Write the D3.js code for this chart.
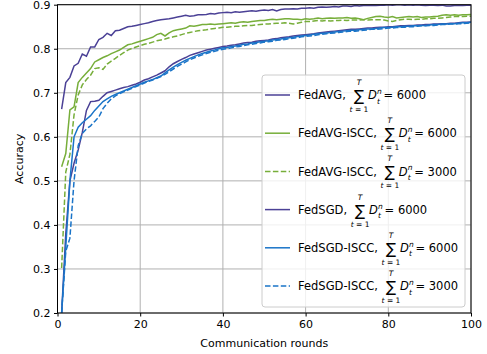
<!DOCTYPE html>
<html>
<head>
<meta charset="utf-8">
<script src="https://cdn.jsdelivr.net/npm/d3@7"></script>
<style>
  body { margin: 0; background: #fff; }
  text { font-family: "DejaVu Sans", sans-serif; fill: #000; }
</style>
</head>
<body>
<div id="chart"></div>
<script>
// rounds 1..100
const rounds = d3.range(1, 101)

const fedAvg6000 = [
  0.663, 0.723, 0.735, 0.761, 0.767, 0.788, 0.783, 0.804, 0.804, 0.821, 0.826, 0.835, 0.830, 0.841, 0.842,
  0.846, 0.850, 0.851, 0.853, 0.855, 0.857, 0.859, 0.862, 0.864, 0.866,
  0.867, 0.868, 0.870, 0.872, 0.874, 0.876, 0.874, 0.875, 0.877, 0.877, 0.878, 0.880, 0.879, 0.881, 0.882,
  0.883, 0.882, 0.884, 0.883, 0.884, 0.885, 0.886, 0.885, 0.887, 0.888, 0.887, 0.889, 0.886, 0.889, 0.890,
  0.890, 0.891, 0.890, 0.892, 0.892, 0.893, 0.892, 0.894, 0.895, 0.894, 0.895, 0.896, 0.895, 0.897, 0.897,
  0.896, 0.898, 0.897, 0.898, 0.898, 0.899, 0.898, 0.899, 0.899, 0.900, 0.899, 0.900, 0.900, 0.899, 0.900,
  0.899, 0.900, 0.899, 0.898, 0.899, 0.899, 0.898, 0.899, 0.897, 0.897, 0.898, 0.899, 0.898, 0.899, 0.899
]
const fedAvgIscc6000 = [
  0.532, 0.562, 0.661, 0.668, 0.723, 0.735, 0.745, 0.755, 0.770, 0.775, 0.780, 0.784, 0.789, 0.793, 0.797,
  0.803, 0.809, 0.811, 0.814, 0.817, 0.820, 0.823, 0.826, 0.832, 0.835,
  0.829, 0.836, 0.841, 0.843, 0.845, 0.847, 0.852, 0.851, 0.853, 0.855, 0.855, 0.856, 0.855, 0.856, 0.857,
  0.858, 0.859, 0.858, 0.860, 0.861, 0.860, 0.862, 0.863, 0.864, 0.864, 0.866, 0.867, 0.866, 0.867, 0.868,
  0.868, 0.867, 0.867, 0.866, 0.868, 0.867, 0.868, 0.870, 0.868, 0.869, 0.870, 0.869, 0.870, 0.870, 0.871,
  0.869, 0.870, 0.868, 0.866, 0.869, 0.871, 0.873, 0.874, 0.872, 0.871, 0.873, 0.870, 0.871, 0.872, 0.873,
  0.872, 0.873, 0.871, 0.872, 0.872, 0.873, 0.874, 0.876, 0.877, 0.876, 0.877, 0.876, 0.877, 0.877, 0.878
]
const fedAvgIscc3000 = [
  0.302, 0.520, 0.560, 0.650, 0.695, 0.718, 0.730, 0.740, 0.755, 0.757, 0.753, 0.765, 0.772, 0.778, 0.785,
  0.791, 0.797, 0.801, 0.804, 0.807, 0.810, 0.812, 0.815, 0.818, 0.820,
  0.822, 0.825, 0.827, 0.829, 0.832, 0.835, 0.837, 0.839, 0.841, 0.842, 0.843, 0.845, 0.846, 0.847, 0.849,
  0.849, 0.850, 0.851, 0.851, 0.852, 0.853, 0.853, 0.854, 0.855, 0.856, 0.856, 0.857, 0.858, 0.858, 0.859,
  0.858, 0.856, 0.858, 0.860, 0.862, 0.862, 0.863, 0.864, 0.863, 0.864, 0.863, 0.864, 0.864, 0.865, 0.864,
  0.865, 0.865, 0.865, 0.866, 0.865, 0.866, 0.866, 0.866, 0.865, 0.863, 0.862, 0.864, 0.866, 0.867, 0.867,
  0.866, 0.867, 0.867, 0.868, 0.868, 0.869, 0.869, 0.870, 0.871, 0.872, 0.873, 0.873, 0.873, 0.874, 0.874
]
const fedSgd6000 = [
  0.200, 0.380, 0.500, 0.540, 0.570, 0.610, 0.660, 0.680, 0.681, 0.683, 0.692, 0.700, 0.703, 0.706, 0.709,
  0.712, 0.714, 0.717, 0.720, 0.724, 0.729, 0.732, 0.736, 0.740, 0.745,
  0.750, 0.759, 0.766, 0.771, 0.776, 0.780, 0.785, 0.788, 0.791, 0.794, 0.797, 0.799, 0.801, 0.803, 0.805,
  0.806, 0.808, 0.809, 0.811, 0.813, 0.814, 0.815, 0.817, 0.818, 0.819, 0.820, 0.822, 0.823, 0.825, 0.826,
  0.827, 0.829, 0.830, 0.831, 0.832, 0.833, 0.834, 0.836, 0.837, 0.838, 0.839, 0.840, 0.841, 0.842, 0.843,
  0.844, 0.844, 0.845, 0.846, 0.847, 0.847, 0.848, 0.849, 0.849, 0.850, 0.850, 0.851, 0.852, 0.852, 0.853,
  0.853, 0.854, 0.854, 0.855, 0.855, 0.856, 0.856, 0.857, 0.857, 0.858, 0.858, 0.859, 0.860, 0.860, 0.861
]
const fedSgdIscc6000 = [
  0.200, 0.350, 0.500, 0.600, 0.622, 0.632, 0.640, 0.648, 0.660, 0.670, 0.680, 0.686, 0.692, 0.696, 0.700,
  0.704, 0.708, 0.712, 0.716, 0.720, 0.724, 0.727, 0.730, 0.734, 0.738,
  0.745, 0.752, 0.758, 0.764, 0.769, 0.774, 0.778, 0.782, 0.786, 0.789, 0.792, 0.795, 0.797, 0.800, 0.802,
  0.803, 0.805, 0.806, 0.808, 0.810, 0.811, 0.813, 0.814, 0.816, 0.817, 0.818, 0.820, 0.821, 0.822, 0.824,
  0.825, 0.826, 0.828, 0.829, 0.830, 0.831, 0.833, 0.834, 0.835, 0.836, 0.837, 0.838, 0.839, 0.840, 0.841,
  0.842, 0.842, 0.843, 0.844, 0.845, 0.845, 0.846, 0.847, 0.848, 0.848, 0.849, 0.850, 0.850, 0.851, 0.851,
  0.852, 0.852, 0.853, 0.853, 0.854, 0.855, 0.855, 0.856, 0.856, 0.857, 0.857, 0.858, 0.859, 0.859, 0.860
]
const fedSgdIscc3000 = [
  0.200, 0.340, 0.370, 0.500, 0.580, 0.608, 0.618, 0.625, 0.635, 0.645, 0.664, 0.676, 0.686, 0.693, 0.698,
  0.702, 0.706, 0.710, 0.714, 0.718, 0.722, 0.726, 0.729, 0.733, 0.737,
  0.742, 0.748, 0.754, 0.760, 0.765, 0.770, 0.775, 0.779, 0.783, 0.786, 0.789, 0.792, 0.794, 0.797, 0.799,
  0.800, 0.802, 0.804, 0.805, 0.807, 0.809, 0.810, 0.812, 0.813, 0.815, 0.816, 0.817, 0.819, 0.820, 0.821,
  0.823, 0.824, 0.825, 0.827, 0.828, 0.829, 0.830, 0.832, 0.833, 0.834, 0.835, 0.836, 0.837, 0.838, 0.839,
  0.840, 0.840, 0.841, 0.842, 0.843, 0.844, 0.844, 0.845, 0.846, 0.847, 0.847, 0.848, 0.849, 0.849, 0.850,
  0.850, 0.851, 0.852, 0.852, 0.853, 0.853, 0.854, 0.855, 0.855, 0.856, 0.856, 0.857, 0.857, 0.858, 0.859
]

const seriesNames = ['FedAVG,', 'FedAVG-ISCC,', 'FedAVG-ISCC,', 'FedSGD,', 'FedSGD-ISCC,', 'FedSGD-ISCC,']
const seriesTotals = ['6000', '6000', '3000', '6000', '6000', '3000']
const seriesValues = [fedAvg6000, fedAvgIscc6000, fedAvgIscc3000, fedSgd6000, fedSgdIscc6000, fedSgdIscc3000]
const seriesColors = ['#4b4196', '#77ae3a', '#77ae3a', '#4b4196', '#1a74c8', '#1a74c8']
const seriesDashed = [false, false, true, false, false, true]

const xTicks = [0, 20, 40, 60, 80, 100]
const yTicks = [0.2, 0.3, 0.4, 0.5, 0.6, 0.7, 0.8, 0.9]

const W = 487, H = 354
const m = { left: 57.5, right: 16, top: 4.7, bottom: 41 }

const svg = d3.select('div#chart')
    .append('svg')
    .attr('width', W)
    .attr('height', H)

const x = d3.scaleLinear().domain([0, 100]).range([m.left, W - m.right])
const y = d3.scaleLinear().domain([0.2, 0.9]).range([H - m.bottom, m.top])

// grid
svg.append('g')
    .selectAll('line')
    .data(xTicks)
    .enter()
    .append('line')
    .attr('x1', d => x(d)).attr('x2', d => x(d))
    .attr('y1', y(0.2)).attr('y2', y(0.9))
    .style('stroke', '#b0b0b0')
    .style('stroke-width', 1)
svg.append('g')
    .selectAll('line')
    .data(yTicks)
    .enter()
    .append('line')
    .attr('x1', x(0)).attr('x2', x(100))
    .attr('y1', d => y(d)).attr('y2', d => y(d))
    .style('stroke', '#b0b0b0')
    .style('stroke-width', 1)

// lines
svg.append('clipPath').attr('id', 'clip')
    .append('rect')
    .attr('x', x(0)).attr('y', y(0.9))
    .attr('width', x(100) - x(0)).attr('height', y(0.2) - y(0.9))

const line = d3.line()
    .x((d, i) => x(rounds[i]))
    .y(d => y(d))

svg.append('g')
    .attr('clip-path', 'url(#clip)')
    .selectAll('path')
    .data(seriesValues)
    .enter()
    .append('path')
    .attr('d', d => line(d))
    .style('fill', 'none')
    .style('stroke', (d, i) => seriesColors[i])
    .style('stroke-width', 1.5)
    .style('stroke-dasharray', (d, i) => seriesDashed[i] ? '5.5,2.4' : null)

// axes
svg.append('g')
    .attr('transform', `translate(0,${y(0.2)})`)
    .call(d3.axisBottom(x).tickValues(xTicks).tickSize(3.5).tickPadding(3.5))
svg.append('g')
    .attr('transform', `translate(${x(0)},0)`)
    .call(d3.axisLeft(y).tickValues(yTicks).tickFormat(d3.format('.1f')).tickSize(3.5).tickPadding(3.5))
svg.selectAll('.tick text')
    .style('font-size', '11px')
    .style('font-family', '"DejaVu Sans", sans-serif')
svg.selectAll('.domain').remove()

// frame
svg.append('rect')
    .attr('x', x(0)).attr('y', y(0.9))
    .attr('width', x(100) - x(0)).attr('height', y(0.2) - y(0.9))
    .style('fill', 'none')
    .style('stroke', '#000')
    .style('stroke-width', 1)

svg.append('text')
    .attr('x', (x(0) + x(100)) / 2)
    .attr('y', 347)
    .attr('text-anchor', 'middle')
    .style('font-size', '11px')
    .text('Communication rounds')

svg.append('text')
    .attr('transform', `translate(23,${(y(0.2) + y(0.9)) / 2}) rotate(-90)`)
    .attr('text-anchor', 'middle')
    .style('font-size', '11px')
    .text('Accuracy')

// legend
const lg = svg.append('g')
lg.append('rect')
    .attr('x', 262).attr('y', 75)
    .attr('width', 203).attr('height', 232)
    .attr('rx', 3)
    .style('fill', 'rgba(255,255,255,0.8)')
    .style('stroke', '#cccccc')
    .style('stroke-width', 1)

seriesNames.forEach((name, i) => {
    const cy = 95 + i * 38.2
    lg.append('line')
        .attr('x1', 265).attr('x2', 290)
        .attr('y1', cy).attr('y2', cy)
        .style('stroke', seriesColors[i])
        .style('stroke-width', 1.5)
        .style('stroke-dasharray', seriesDashed[i] ? '5.5,2.4' : null)
    const t = lg.append('text')
        .attr('x', 298).attr('y', cy + 4.2)
        .style('font-size', '11.5px')
        .text(name)
    const sx = 298 + t.node().getComputedTextLength() + 13
    lg.append('text')
        .attr('x', sx).attr('y', cy + 6)
        .attr('text-anchor', 'middle')
        .style('font-size', '15px')
        .text('\u2211')
    lg.append('text')
        .attr('x', sx).attr('y', cy - 10)
        .attr('text-anchor', 'middle')
        .style('font-size', '7.5px')
        .style('font-style', 'italic')
        .text('T')
    lg.append('text')
        .attr('x', sx).attr('y', cy + 17)
        .attr('text-anchor', 'middle')
        .style('font-size', '7.5px')
        .html('<tspan font-style="italic">t</tspan> = 1')
    lg.append('text')
        .attr('x', sx + 9).attr('y', cy + 4.2)
        .style('font-size', '11.5px')
        .style('font-style', 'italic')
        .text('D')
    lg.append('text')
        .attr('x', sx + 18).attr('y', cy - 1)
        .style('font-size', '7.5px')
        .style('font-style', 'italic')
        .text('n')
    lg.append('text')
        .attr('x', sx + 18).attr('y', cy + 8.5)
        .style('font-size', '7.5px')
        .style('font-style', 'italic')
        .text('t')
    lg.append('text')
        .attr('x', sx + 24.5).attr('y', cy + 4.2)
        .style('font-size', '11.5px')
        .text('= ' + seriesTotals[i])
})
</script>
</body>
</html>
